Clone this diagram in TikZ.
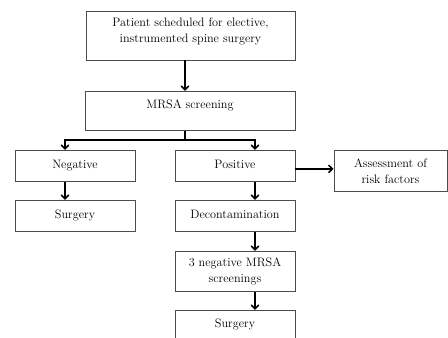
\documentclass[tikz,border=0pt]{standalone}
\usetikzlibrary{arrows.meta}
\begin{document}
\begin{tikzpicture}[x=1pt,y=-1pt,
  box/.style={draw=black!70, line width=0.8pt, inner xsep=2pt, inner ysep=0pt, anchor=north,
    align=center, font=\fontsize{12.2}{16}\selectfont},
  one/.style={text height=9pt, text depth=3pt},
  arr/.style={line width=1.5pt, -{Straight Barb[length=4pt,width=7.5pt]}},
  arrtwo/.style={line width=1.5pt, line join=miter, {Straight Barb[length=4pt,width=7.5pt]}-{Straight Barb[length=4pt,width=7.5pt]}}]
\useasboundingbox (0,0) rectangle (448,338);
\clip (0,0) rectangle (448,338);
% boxes
\node[box, minimum width=209pt, inner ysep=7pt, text depth=10pt] (top) at (190.5,11)
  {Patient scheduled for elective,\\instrumented spine surgery};
\node[box, minimum width=210pt, inner ysep=8pt, text height=9pt, text depth=14pt] (mrsa) at (190,91) {MRSA screening};
\node[box, one, minimum width=120pt, minimum height=31pt] (neg) at (75,150) {Negative};
\node[box, one, minimum width=120pt, minimum height=31pt] (pos) at (235,150) {Positive};
\node[box, minimum width=113pt, minimum height=41pt] (assess) at (390.5,150) {Assessment of\\risk factors};
\node[box, one, minimum width=120pt, minimum height=31pt] (surgL) at (75,200) {Surgery};
\node[box, one, minimum width=120pt, minimum height=31pt] (decon) at (235,200) {Decontamination};
\node[box, minimum width=120pt, minimum height=40pt] (neg3) at (235,251) {3 negative MRSA\\screenings};
\node[box, minimum width=120pt, inner ysep=8pt, text height=9pt, text depth=20pt] (surgR) at (235,310) {Surgery};
% connector coordinates
\coordinate (cx) at (185,140);
\coordinate (lx) at (65,140);
\coordinate (rx) at (255,140);
% connectors
\draw[arr] (top.south -| cx) -- (mrsa.north -| cx);
\draw[line width=1.5pt] (mrsa.south -| cx) -- (cx);
\draw[arrtwo] (neg.north -| lx) -- (lx) -- (rx) -- (pos.north -| rx);
\draw[arr] ([yshift=-3pt]pos.east) -- ([yshift=-3pt]pos.east -| assess.west);
\draw[arr] (neg.south -| lx) -- (surgL.north -| lx);
\draw[arr] (pos.south -| rx) -- (decon.north -| rx);
\draw[arr] (decon.south -| rx) -- (neg3.north -| rx);
\draw[arr] (neg3.south -| rx) -- (surgR.north -| rx);
\end{tikzpicture}
\end{document}
